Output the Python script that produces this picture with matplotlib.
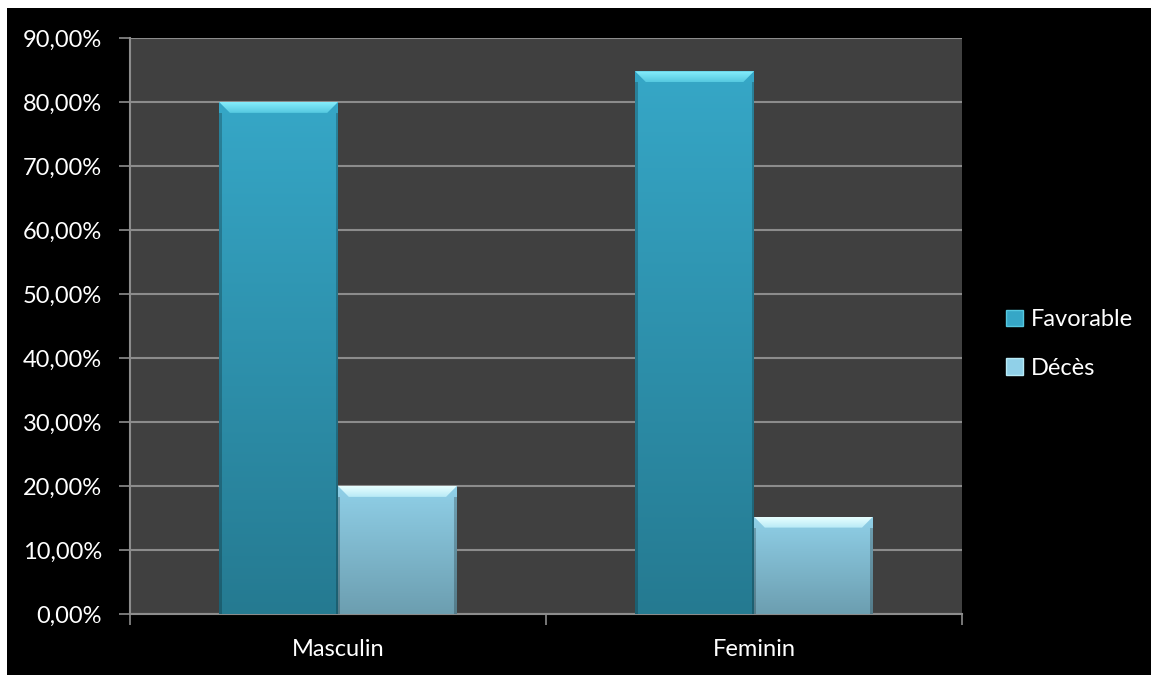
import matplotlib
matplotlib.use("Agg")
import matplotlib.pyplot as plt
import numpy as np
from matplotlib.patches import Rectangle, Polygon, Patch
from matplotlib.colors import LinearSegmentedColormap
from matplotlib.ticker import FuncFormatter, FixedLocator

categories = ["Masculin", "Feminin"]
series_names = ["Favorable", "Décès"]
favorable = [80.0, 84.8]
deces = [20.0, 15.2]
yticks = [0, 10, 20, 30, 40, 50, 60, 70, 80, 90]

plt.rcParams['font.family'] = ['Lato', 'DejaVu Sans']

W, H = 1151, 675
fig = plt.figure(figsize=(W / 100, H / 100), dpi=100, facecolor='black')
# white margin at top and left
fig.patches.append(Rectangle((0, 0), 7 / W, 1, transform=fig.transFigure,
                             facecolor='white', edgecolor='none', zorder=-10))
fig.patches.append(Rectangle((0, 1 - 8 / H), 1, 8 / H, transform=fig.transFigure,
                             facecolor='white', edgecolor='none', zorder=-10))

ax = fig.add_axes([130 / W, (H - 614) / H, (962 - 130) / W, (614 - 38) / H])
ax.set_facecolor('#404040')

x = np.arange(len(categories))
w = 2 / 7
styles = [
    dict(top='#36A7C7', bottom='#257A91', bevel_top='#86EEFC', bevel_bot='#55C8E0'),
    dict(top='#90D0E8', bottom='#6C9EB0', bevel_top='#E8FFFF', bevel_bot='#B8EAF6'),
]
all_vals = [favorable, deces]
offsets = [-w / 2, w / 2]

for vals, off, st, name in zip(all_vals, offsets, styles, series_names):
    bars = ax.bar(x + off, vals, width=w, color=st['top'], edgecolor='none', zorder=2, label=name)
    cmap = LinearSegmentedColormap.from_list('g', [st['bottom'], st['top']])
    bcmap = LinearSegmentedColormap.from_list('b', [st['bevel_bot'], st['bevel_top']])
    for b in bars:
        x0, y0 = b.get_x(), b.get_y()
        bw, bh = b.get_width(), b.get_height()
        grad = np.linspace(0, 1, 256).reshape(-1, 1)
        im = ax.imshow(grad, cmap=cmap, origin='lower', aspect='auto',
                       extent=[x0, x0 + bw, y0, y0 + bh], zorder=3, interpolation='bicubic')
        im.set_clip_path(b)
        # bevel at top
        bev_h = 1.7
        ins = 0.026
        top = y0 + bh
        bev = Polygon([[x0, top], [x0 + bw, top], [x0 + bw - ins, top - bev_h],
                       [x0 + ins, top - bev_h]], closed=True,
                      facecolor='none', edgecolor='none', zorder=4)
        ax.add_patch(bev)
        bim = ax.imshow(grad, cmap=bcmap, origin='lower', aspect='auto',
                        extent=[x0, x0 + bw, top - bev_h, top], zorder=4, interpolation='bicubic')
        bim.set_clip_path(bev)
        # darker side edges
        ax.add_patch(Rectangle((x0, y0), 0.006, bh - bev_h, facecolor='black', alpha=0.22,
                               edgecolor='none', zorder=4))
        ax.add_patch(Rectangle((x0 + bw - 0.006, y0), 0.006, bh - bev_h, facecolor='black', alpha=0.22,
                               edgecolor='none', zorder=4))

ax.set_xlim(-0.5, len(categories) - 0.5)
ax.set_ylim(0, 90)
ax.set_yticks(yticks)
ax.yaxis.set_major_formatter(FuncFormatter(lambda v, p: f"{v:.2f}".replace('.', ',') + '%'))
ax.yaxis.grid(True, color='#8C8C8C', linewidth=1.5, zorder=1)
ax.set_axisbelow(True)

ax.set_xticks(x)
ax.set_xticklabels(categories)
ax.xaxis.set_minor_locator(FixedLocator(np.arange(-0.5, len(categories), 1.0)))
ax.tick_params(axis='x', which='major', length=0, pad=18, labelcolor='white', labelsize=17)
ax.tick_params(axis='x', which='minor', length=8, width=1.2, color='#8C8C8C', direction='out')
ax.tick_params(axis='y', length=8, width=1.2, color='#8C8C8C', pad=12, labelcolor='white',
               labelsize=17)

for side in ['top', 'right']:
    ax.spines[side].set_visible(False)
for side in ['left', 'bottom']:
    ax.spines[side].set_color('#8C8C8C')
    ax.spines[side].set_linewidth(1.5)

handles = [Patch(facecolor=styles[0]['top'], edgecolor=styles[0]['bevel_bot']),
           Patch(facecolor=styles[1]['top'], edgecolor=styles[1]['bevel_bot'])]
leg = fig.legend(handles, series_names, loc='center left', bbox_to_anchor=(1006 / W, 1 - 344 / H),
                 frameon=False, fontsize=17, labelcolor='white', handlelength=0.7, handleheight=0.7,
                 handletextpad=0.35, labelspacing=1.15, borderaxespad=0, borderpad=0)

fig.savefig('out.png', dpi=100, facecolor=fig.get_facecolor())
